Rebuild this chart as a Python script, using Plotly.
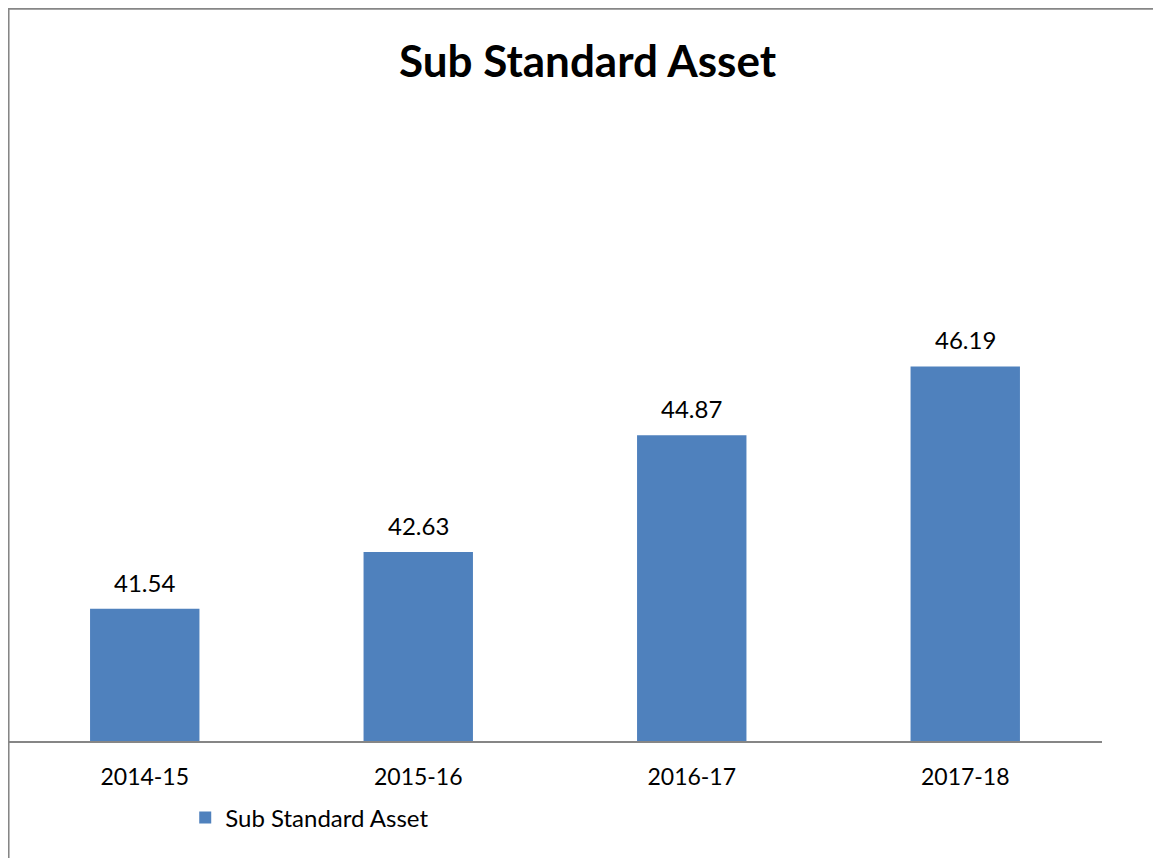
import plotly.graph_objects as go

categories = ["2014-15", "2015-16", "2016-17", "2017-18"]
values = [41.54, 42.63, 44.87, 46.19]
labels = ["41.54", "42.63", "44.87", "46.19"]
series_name = "Sub Standard Asset"
title_text = "Sub Standard Asset"

FONT = "Lato, Carlito, Calibri, 'Open Sans', sans-serif"

fig = go.Figure()
fig.add_trace(go.Bar(
    x=categories, y=values, name=series_name,
    marker=dict(color="#4F81BD", line=dict(width=0)),
    showlegend=True,
))

for c, v, t in zip(categories, values, labels):
    fig.add_annotation(x=c, y=v, text=t, showarrow=False, yanchor="bottom",
                       yshift=10, font=dict(size=24, color="#000000", family=FONT))

fig.add_annotation(xref="paper", yref="paper", x=0.530, y=1.188, text="<b>" + title_text + "</b>",
                   showarrow=False, xanchor="center", yanchor="middle",
                   font=dict(size=44, color="#000000", family=FONT))

# outer chart border
fig.add_shape(type="rect", xref="paper", yref="paper", x0=0.0005, x1=1.2, y0=-0.6, y1=1.278,
              line=dict(color="#868686", width=2), fillcolor="rgba(0,0,0,0)", layer="above")

fig.update_layout(
    width=1153, height=850,
    margin=dict(l=0, r=59, t=160, b=117, pad=0),
    paper_bgcolor="white", plot_bgcolor="white",
    bargap=0.6,
    font=dict(family=FONT, size=23, color="#000000"),
    showlegend=True,
    legend=dict(orientation="h", x=0.162, y=-0.134, xanchor="left", yanchor="middle",
                font=dict(size=24, family=FONT), itemwidth=30, bgcolor="rgba(0,0,0,0)"),
    xaxis=dict(showline=True, linecolor="#868686", linewidth=2, ticks="outside",
               ticklen=14, tickcolor="rgba(0,0,0,0)", showgrid=False, zeroline=False,
               tickfont=dict(size=23, family=FONT)),
    yaxis=dict(range=[39, 50], visible=False, showgrid=False, zeroline=False),
)

fig.write_html("out.html")
